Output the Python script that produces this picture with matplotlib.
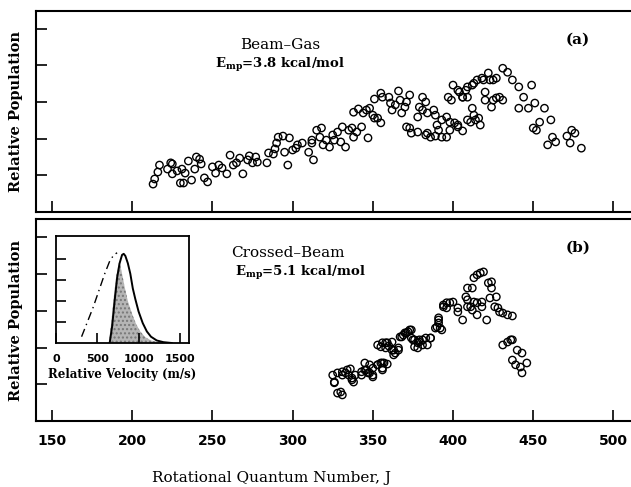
import matplotlib
matplotlib.use("Agg")
import matplotlib.pyplot as plt

plt.rcParams['font.family'] = 'DejaVu Serif'
plt.rcParams['mathtext.fontset'] = 'dejavuserif'

# panel (a) beam-gas: rotational J and relative population
j_gas = [213, 214, 216, 217, 222, 224, 225, 225, 228, 230, 232, 231, 233, 235, 237,
         240, 242, 243, 239, 245, 247, 250, 252, 254, 256, 259, 261, 263, 265, 267,
         269, 272, 273, 275, 277, 278, 284, 285, 288, 289, 291, 294, 290, 295, 297,
         298, 300, 302, 303, 306, 310, 312,
         313, 312, 315, 318, 317, 319, 321, 323, 325, 326, 328, 330, 331, 333, 335,
         337, 338, 340, 343, 347, 338, 341, 344, 346, 348, 350, 351, 353, 355, 351,
         355, 356, 360, 361, 362, 364, 366, 367, 370, 371, 373, 368, 371, 373, 374,
         378, 378, 381, 383, 379, 381, 384, 388, 389, 390, 391, 393, 393, 396, 398,
         384, 383, 386, 389, 396, 398, 401, 403, 403, 406, 400, 403, 404, 406, 408,
         409, 412, 413, 415, 418, 419, 422, 423, 425, 427, 431, 434, 437, 397, 399,
         406, 409, 412, 413, 414, 416, 417, 409, 411, 420, 420, 424, 425, 427, 429,
         431, 441, 449, 444, 441, 447, 451, 457, 450, 452, 454, 461, 462, 459, 464,
         471, 474, 476, 473, 480]
pop_gas = [0.76, 0.90, 1.09, 1.28, 1.17, 1.34, 1.04, 1.31, 1.12, 0.79, 0.79, 1.17, 1.06, 1.39, 0.87,
           1.50, 1.44, 1.31, 1.17, 0.93, 0.82, 1.23, 1.06, 1.28, 1.20, 1.04, 1.55, 1.28, 1.34, 1.47,
           1.04, 1.42, 1.53, 1.34, 1.50, 1.36, 1.34, 1.61, 1.58, 1.72, 2.04, 2.07, 1.88, 1.63, 1.28,
           2.02, 1.69, 1.74, 1.83, 1.88, 1.63, 1.88,
           1.42, 1.96, 2.23, 2.29, 2.04, 1.83, 1.96, 1.77, 2.10, 1.96, 2.18, 1.91, 2.32, 1.77, 2.23,
           2.29, 2.04, 2.18, 2.32, 2.02, 2.72, 2.81, 2.70, 2.78, 2.83, 2.64, 2.56, 2.56, 2.43, 3.08,
           3.24, 3.13, 3.13, 2.97, 2.78, 2.92, 3.30, 3.05, 2.86, 3.00, 3.19, 2.70, 2.32, 2.29, 2.15,
           2.18, 2.59, 3.13, 3.00, 2.86, 2.78, 2.70, 2.78, 2.64, 2.37, 2.23, 2.04, 2.51, 2.59, 2.45,
           2.15, 2.10, 2.04, 2.07, 2.04, 2.23, 2.43, 2.37, 2.32, 2.21, 3.46, 3.32, 3.27, 3.13, 3.32,
           3.41, 3.46, 3.51, 3.60, 3.65, 3.60, 3.79, 3.60, 3.60, 3.65, 3.92, 3.81, 3.60, 3.13, 3.05,
           3.13, 3.13, 2.83, 2.64, 2.51, 2.56, 2.37, 2.51, 2.45, 3.27, 3.05, 2.86, 3.05, 3.11, 3.13,
           3.05, 3.41, 3.46, 3.13, 2.83, 2.83, 2.97, 2.83, 2.29, 2.23, 2.45, 2.51, 2.04, 1.83, 1.91,
           2.07, 2.23, 2.15, 1.88, 1.74]

# panel (b) crossed-beam
j_cb = [330, 331, 325, 326, 328, 331, 333, 335, 336, 337, 339, 343, 345, 346, 348,
        350, 350, 353, 355, 356, 359, 355, 358, 360, 362, 363, 366, 367, 369, 371,
        373, 375, 376, 378, 379, 381, 383, 386, 390, 391, 393, 396, 394, 398, 400,
        403, 403, 406, 409, 411, 412, 413, 415, 418, 418, 415, 421, 408, 409, 409,
        412, 413, 415, 417, 419, 422, 424, 424, 423, 427, 426, 428, 429, 431, 434,
        437, 431, 434, 436, 437, 440, 443, 437, 439, 442, 446, 443,
        328, 326, 331, 334, 337, 338, 343, 345, 347, 348, 350, 353, 356, 357, 356,
        353, 356, 358, 359, 362, 363, 364, 366, 368, 370, 372, 374, 374, 376, 378,
        379, 381, 384, 386, 389, 391, 392, 391, 394, 396]
pop_cb = [0.79, 0.71, 1.25, 1.06, 1.31, 1.34, 1.31, 1.25, 1.42, 1.12, 1.25, 1.34, 1.58, 1.39, 1.31,
          1.20, 1.44, 1.53, 1.58, 1.44, 1.55, 2.02, 2.13, 2.04, 1.93, 1.80, 1.93, 2.29, 2.34, 2.40,
          2.48, 2.21, 2.02, 2.13, 2.21, 2.07, 2.26, 2.26, 2.56, 2.81, 2.48, 3.08, 3.16, 3.22, 3.24,
          3.08, 2.97, 2.75, 3.11, 3.11, 3.02, 3.24, 3.22, 3.24, 3.11, 2.89, 2.75, 3.38, 3.30, 3.62,
          3.62, 3.90, 3.98, 4.03, 4.06, 3.76, 3.79, 3.62, 3.35, 3.38, 3.11, 3.08, 2.97, 2.94, 2.89,
          2.86, 2.07, 2.15, 2.21, 2.21, 1.93, 1.85, 1.66, 1.53, 1.47, 1.58, 1.31,
          0.76, 1.04, 1.25, 1.39, 1.17, 1.06, 1.25, 1.39, 1.31, 1.53, 1.25, 1.53, 1.58, 1.58, 1.39,
          2.07, 2.13, 1.99, 2.13, 2.15, 1.93, 1.85, 1.99, 2.29, 2.40, 2.43, 2.48, 2.26, 2.21, 1.99,
          2.15, 2.21, 2.07, 2.26, 2.53, 2.67, 2.53, 2.75, 3.11, 3.22]

# inset: relative velocity distributions
v_solid = [650, 680, 710, 740, 770, 800, 820, 840, 870, 900, 930, 960, 1000, 1050, 1100, 1150, 1220, 1300, 1400]
f_solid = [0.0, 0.8, 2.0, 3.1, 3.8, 4.2, 4.25, 4.15, 3.8, 3.3, 2.6, 2.1, 1.5, 0.95, 0.55, 0.3, 0.12, 0.04, 0.0]
v_shade = [640, 670, 700, 730, 760, 780, 800, 830, 870, 920, 970, 1020, 1080, 1150, 1250, 1350]
f_shade = [0.0, 1.0, 2.2, 3.2, 3.8, 3.7, 3.3, 2.7, 2.0, 1.4, 0.9, 0.55, 0.28, 0.12, 0.03, 0.0]
v_dash = [310, 380, 450, 520, 590, 650, 700, 740]
f_dash = [0.3, 1.0, 1.7, 2.5, 3.3, 3.9, 4.2, 4.3]

xticks = [150, 200, 250, 300, 350, 400, 450, 500]

fig = plt.figure(figsize=(6.31, 4.87), dpi=100)
ax1 = fig.add_axes([0.057, 0.5647, 0.966, 0.4127])
ax2 = fig.add_axes([0.057, 0.1355, 0.966, 0.4148])

for ax in (ax1, ax2):
    ax.set_xlim(140, 520)
    ax.set_xticks(xticks)
    ax.set_yticks([1, 2, 3, 4, 5])
    ax.set_yticklabels([])
    ax.tick_params(direction='in', length=8, width=1.2, top=False, right=False)
    for s in ax.spines.values():
        s.set_linewidth(1.5)
    ax.set_ylabel('Relative Population', fontsize=10.5, fontweight='bold', labelpad=6)

ax1.set_ylim(0, 5.48)
ax2.set_ylim(0, 5.5)
ax1.set_xticklabels([])
ax2.set_xticklabels([str(t) for t in xticks], family='DejaVu Sans', fontweight='bold', fontsize=10)
ax2.tick_params(axis='x', pad=9)
fig.text(0.431, 0.018, 'Rotational Quantum Number, J', ha='center', va='center', fontsize=11)

ax1.scatter(j_gas, pop_gas, s=28, facecolors='none', edgecolors='black', linewidths=1.0)
ax2.scatter(j_cb, pop_cb, s=28, facecolors='none', edgecolors='black', linewidths=1.0)

ax1.text(292, 4.55, 'Beam\u2013Gas', ha='center', va='center', fontsize=11)
ax1.text(292, 4.0, r'E$_{\mathbf{mp}}$=3.8 kcal/mol', ha='center', va='center', fontsize=9.5, fontweight='bold')
ax1.text(478, 4.7, '(a)', ha='center', va='center', fontsize=11, fontweight='bold')

ax2.text(297, 4.57, 'Crossed\u2013Beam', ha='center', va='center', fontsize=11)
ax2.text(305, 4.03, r'E$_{\mathbf{mp}}$=5.1 kcal/mol', ha='center', va='center', fontsize=9.5, fontweight='bold')
ax2.text(478, 4.73, '(b)', ha='center', va='center', fontsize=11, fontweight='bold')

ins = fig.add_axes([0.0887, 0.2957, 0.2108, 0.2197])
ins.set_xlim(0, 1610)
ins.set_ylim(0, 5.1)
ins.fill_between(v_shade, f_shade, color='#b5b5b5', hatch='....', edgecolor='#777777', linewidth=0)
ins.plot(v_solid, f_solid, color='black', lw=1.4)
ins.plot(v_dash, f_dash, color='black', lw=1.0, dashes=(6, 3, 1, 3))
ins.set_xticks([0, 500, 1000, 1500])
ins.set_xticklabels(['0', '500', '1000', '1500'], family='DejaVu Sans', fontweight='bold', fontsize=8)
ins.set_yticks([1, 2, 3, 4])
ins.set_yticklabels([])
ins.tick_params(direction='in', length=7, width=1.2, top=False, right=False, pad=8)
for s in ins.spines.values():
    s.set_linewidth(1.3)
ins.set_xlabel('Relative Velocity (m/s)', fontsize=8.5, fontweight='bold', labelpad=3)

fig.savefig('out.png', dpi=100)
